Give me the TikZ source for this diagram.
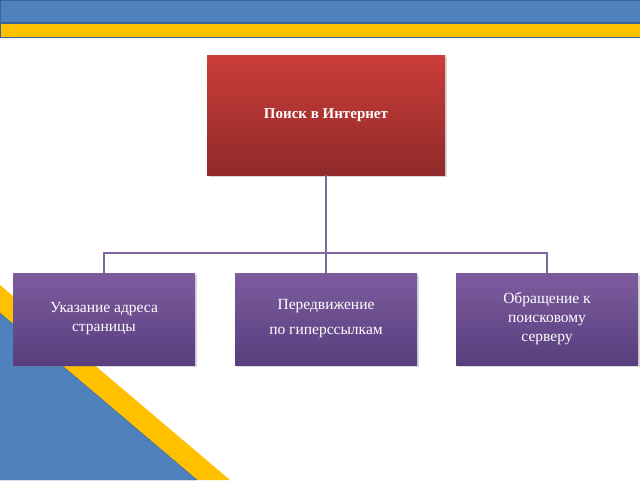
\documentclass[tikz,border=0pt]{standalone}
\usepackage{fontspec}
\setmainfont{Liberation Serif}
\usetikzlibrary{shadows}
\definecolor{bandblue}{HTML}{4F81BD}
\definecolor{bandedge}{HTML}{3A6494}
\definecolor{bandyellow}{HTML}{FFC000}
\definecolor{redtop}{HTML}{CB3D3A}
\definecolor{redbot}{HTML}{902A2A}
\definecolor{purtop}{HTML}{7D5C9E}
\definecolor{purbot}{HTML}{583E7E}
\definecolor{linkc}{HTML}{8064A2}
\tikzset{
  topbox/.style={minimum width=238pt,minimum height=120pt,top color=redtop,bottom color=redbot,text=white,font=\fontsize{15}{18}\selectfont\bfseries,align=center,drop shadow={opacity=0.3,shadow xshift=2pt,shadow yshift=-2pt}},
  subbox/.style={minimum width=182pt,minimum height=92pt,top color=purtop,bottom color=purbot,text=white,font=\fontsize{15.5}{19}\selectfont,align=center,drop shadow={opacity=0.3,shadow xshift=2pt,shadow yshift=-2pt}},
  link/.style={draw=linkc,line width=1.5pt}
}
\begin{document}
\begin{tikzpicture}[x=1pt,y=-1pt]
\useasboundingbox (0,0) rectangle (640,480);
\fill[bandblue,draw=bandedge] (0,0) rectangle (640,22);
\fill[bandyellow,draw=bandedge] (0,23) rectangle (640,37);
\fill[bandyellow] (0,285) -- (230,480) -- (197,480) -- (0,313) -- cycle;
\fill[bandblue,draw=bandedge] (0,313) -- (197,480) -- (0,480) -- cycle;
\node[topbox] (top) at (326,115) {Поиск в Интернет};
\node[subbox] (a) at (104,319) {Указание адреса\\страницы};
\node[subbox] (b) at (326,319) {Передвижение\\[6pt]по гиперссылкам};
\node[subbox] (c) at (547,319) {Обращение к\\поисковому\\серверу};
\coordinate (j) at (326,253);
\draw[link] (top.south) -- (j);
\draw[link] (j) -| (a.north);
\draw[link] (j) -- (b.north);
\draw[link] (j) -| (c.north);
\end{tikzpicture}
\end{document}
